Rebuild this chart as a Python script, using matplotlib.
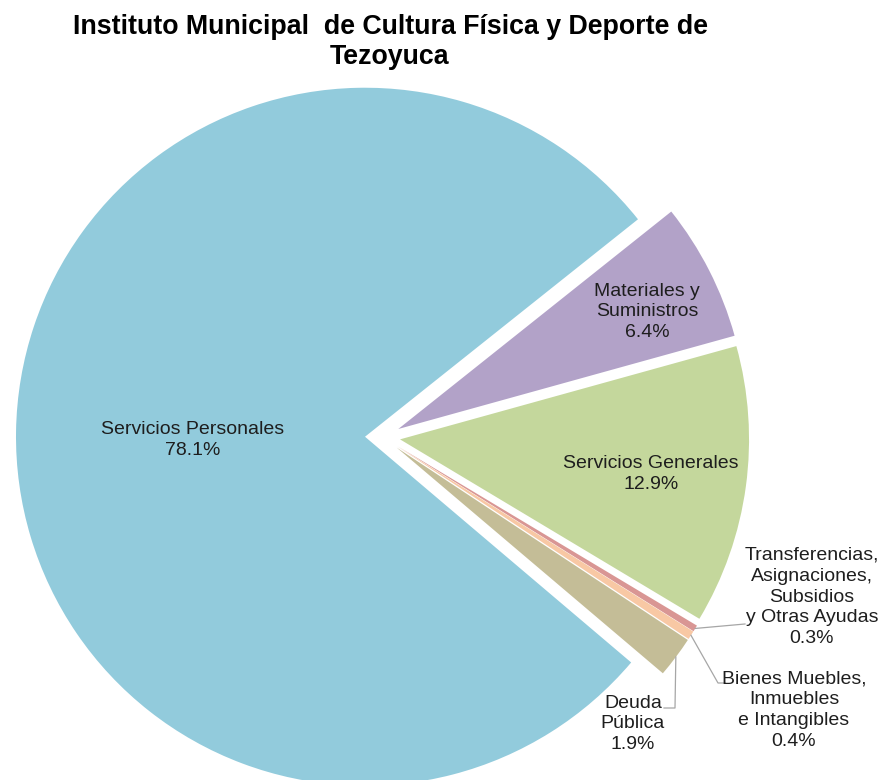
import matplotlib
matplotlib.use('Agg')
import matplotlib.pyplot as plt
import numpy as np

# Data
categories = ['Servicios Personales', 'Materiales y\nSuministros', 'Servicios Generales',
              'Transferencias,\nAsignaciones,\nSubsidios\ny Otras Ayudas',
              'Bienes Muebles,\nInmuebles\ne Intangibles', 'Deuda\nPública']
shares = [78.1, 6.4, 12.9, 0.3, 0.4, 1.9]
colors = ['#92CBDC', '#B2A2C8', '#C4D79C', '#D99694', '#F8C8A4', '#C4BD97']
title = 'Instituto Municipal  de Cultura Física y Deporte de\nTezoyuca'

plt.rcParams['font.family'] = ['Liberation Sans', 'DejaVu Sans']

fig = plt.figure(figsize=(8.8, 7.8), dpi=100)
ax = fig.add_axes([0, 0, 1, 1])

# pie drawn in pixel units (y up)
wedges, _ = ax.pie(shares, colors=colors, center=(382.6, 343), radius=349,
                   explode=[17.6] * len(shares), startangle=319.7,
                   counterclock=False, wedgeprops=dict(linewidth=0))
ax.set_xlim(0, 880)
ax.set_ylim(0, 780)
ax.axis('off')

txt_color = '#1e1e1e'
label_pos = [(193, 340), (647, 468), (651, 306), (812, 183), (794, 70), (633, 56)]
for cat, val, (x, y) in zip(categories, shares, label_pos):
    ax.text(x, y, f'{cat}\n{val:.1f}%', ha='center', va='center',
            multialignment='center', fontsize=14, color=txt_color, linespacing=1.3)

# leader lines for the small slices
def arc_point(w):
    tm = np.deg2rad((w.theta1 + w.theta2) / 2)
    return w.center[0] + w.r * np.cos(tm), w.center[1] + w.r * np.sin(tm)

leaders = {3: [(745, 156)], 4: [(718, 97), (725, 97)], 5: [(675, 72), (664, 72)]}
for i, pts in leaders.items():
    x0, y0 = arc_point(wedges[i])
    xs = [x0] + [p[0] for p in pts]
    ys = [y0] + [p[1] for p in pts]
    ax.plot(xs, ys, color='#A6A6A6', lw=0.9)

ax.text(390, 738, title, ha='center', va='center', fontsize=19.3,
        fontweight='bold', color='black', linespacing=1.2)

fig.savefig('out.png', dpi=100)
